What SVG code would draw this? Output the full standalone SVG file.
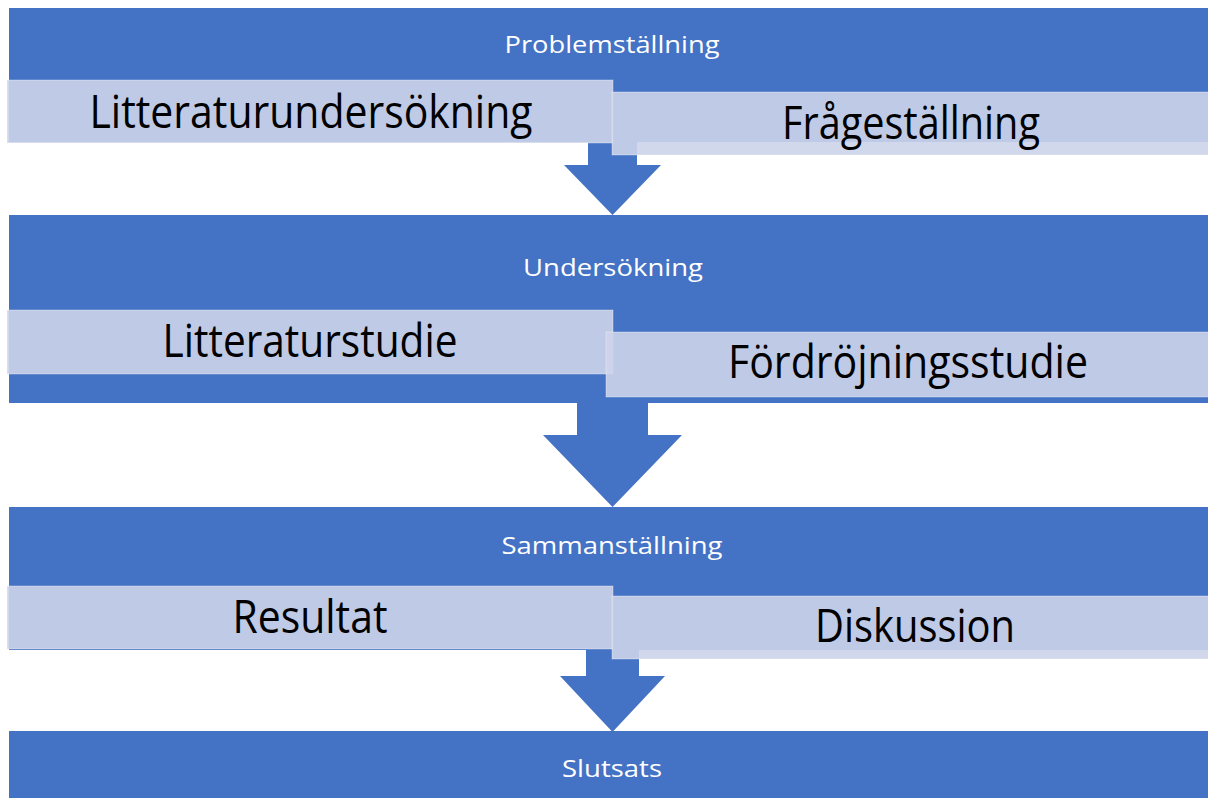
<svg xmlns="http://www.w3.org/2000/svg" width="1208" height="798" viewBox="0 0 1208 798">
<style>
.band{fill:#4472C4;}
.box{fill:#CDD4EA;fill-opacity:0.9;stroke:#FFFFFF;stroke-opacity:0.35;stroke-width:1;}
.arrow{fill:#4472C4;}
.lbl{font-family:"Open Sans","Liberation Sans",sans-serif;font-size:24px;fill:#FFFFFF;text-anchor:middle;}
.big{font-family:"Open Sans","Liberation Sans",sans-serif;font-size:46px;fill:#000000;text-anchor:middle;}
</style>
<rect width="1208" height="798" fill="#FFFFFF"/>
<g id="connectors">
<polygon class="arrow" points="588,130 637,130 637,165 661,165 612.5,215 564,165 588,165"/>
<polygon class="arrow" points="577,390 648,390 648,435 682,435 612.5,507 543,435 577,435"/>
<polygon class="arrow" points="586,640 639,640 639,676 665,676 612.5,732 560,676 586,676"/>
</g>
<g id="problemstallning">
<rect class="band" x="9" y="8" width="1205" height="134"/>
<text class="lbl" x="612" y="53" textLength="215" lengthAdjust="spacingAndGlyphs">Problemställning</text>
</g>
<g id="undersokning">
<rect class="band" x="9" y="215" width="1205" height="188"/>
<text class="lbl" x="613" y="276" textLength="180" lengthAdjust="spacingAndGlyphs">Undersökning</text>
</g>
<g id="sammanstallning">
<rect class="band" x="9" y="507" width="1205" height="143"/>
<text class="lbl" x="612" y="554" textLength="221" lengthAdjust="spacingAndGlyphs">Sammanställning</text>
</g>
<g id="slutsats">
<rect class="band" x="9" y="731" width="1205" height="70"/>
<text class="lbl" x="612" y="777" textLength="100" lengthAdjust="spacingAndGlyphs">Slutsats</text>
</g>
<g id="litteraturundersokning">
<rect class="box" x="7" y="80" width="606" height="63"/>
<text class="big" x="311" y="128" textLength="443" lengthAdjust="spacingAndGlyphs">Litteraturundersökning</text>
</g>
<g id="fragestallning">
<rect class="box" x="612" y="92" width="600" height="63"/>
<text class="big" x="911" y="139" textLength="258" lengthAdjust="spacingAndGlyphs">Frågeställning</text>
</g>
<g id="litteraturstudie">
<rect class="box" x="7" y="310" width="606" height="64"/>
<text class="big" x="310" y="357" textLength="295" lengthAdjust="spacingAndGlyphs">Litteraturstudie</text>
</g>
<g id="fordrojningsstudie">
<rect class="box" x="606" y="332" width="606" height="65"/>
<text class="big" x="908" y="378" textLength="360" lengthAdjust="spacingAndGlyphs">Fördröjningsstudie</text>
</g>
<g id="resultat">
<rect class="box" x="7" y="586" width="606" height="63"/>
<text class="big" x="310" y="633" textLength="155" lengthAdjust="spacingAndGlyphs">Resultat</text>
</g>
<g id="diskussion">
<rect class="box" x="612" y="596" width="600" height="63"/>
<text class="big" x="915" y="642" textLength="200" lengthAdjust="spacingAndGlyphs">Diskussion</text>
</g>
</svg>
